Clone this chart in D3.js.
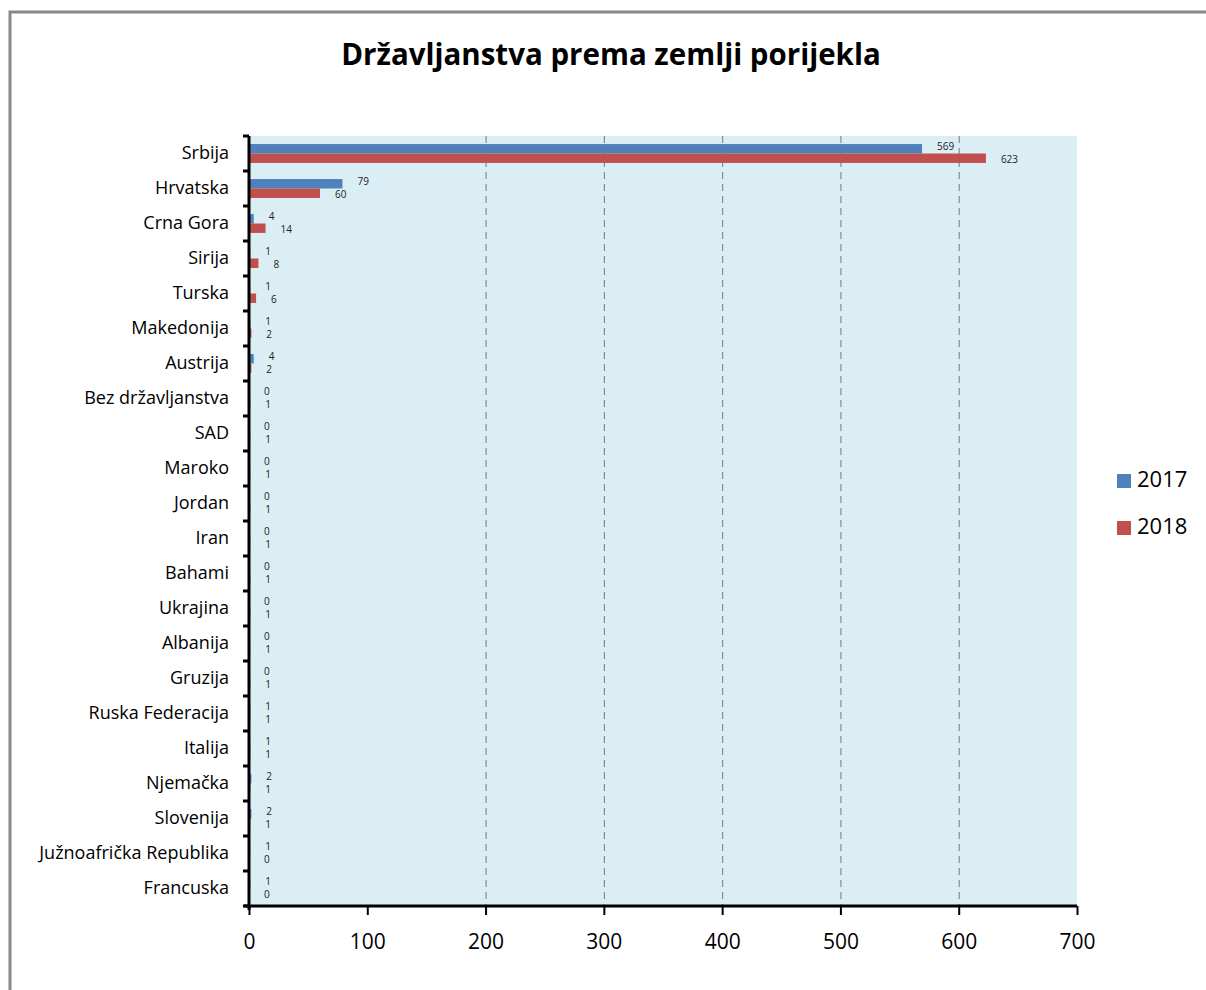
<!DOCTYPE html>
<html><head><meta charset="utf-8">
<script src="https://cdn.jsdelivr.net/npm/d3@7"></script>
<style>
body{margin:0;background:#fff;}
svg{display:block;}
</style></head>
<body>
<svg id="chart" width="1206" height="990"></svg>
<script>
const categories = ["Srbija","Hrvatska","Crna Gora","Sirija","Turska","Makedonija","Austrija","Bez državljanstva","SAD","Maroko","Jordan","Iran","Bahami","Ukrajina","Albanija","Gruzija","Ruska Federacija","Italija","Njemačka","Slovenija","Južnoafrička Republika","Francuska"];
const values2017 = [569,79,4,1,1,1,4,0,0,0,0,0,0,0,0,0,1,1,2,2,1,1];
const values2018 = [623,60,14,8,6,2,2,1,1,1,1,1,1,1,1,1,1,1,1,1,0,0];
const seriesNames = ["2017","2018"];
const seriesColors = ["#4F81BD","#C0504D"];
const xTicks = [0,100,200,300,400,500,600,700];
const gridTicks = [200,300,400,500,600];
const title = "Državljanstva prema zemlji porijekla";

const svg = d3.select("#chart");
const font = "'Open Sans', 'Noto Sans', sans-serif";

// outer frame
svg.append("rect").attr("x",10).attr("y",12).attr("width",1220).attr("height",1010)
  .attr("fill","none").attr("stroke","#888").attr("stroke-width",3);

const L = 249, R = 1077, T = 136, B = 906;
const x = d3.scaleLinear().domain([0,700]).range([L,R]);
const y = d3.scaleBand().domain(categories).range([T,B]).paddingInner(0.46).paddingOuter(0.23);
const sub = d3.scaleBand().domain(seriesNames).range([0,y.bandwidth()]);

svg.append("rect").attr("x",L).attr("y",T).attr("width",R-L).attr("height",B-T).attr("fill","#DBEEF4");

// gridlines
svg.append("g").selectAll("line").data(gridTicks).join("line")
  .attr("x1",d=>x(d)+0.5).attr("x2",d=>x(d)+0.5).attr("y1",T).attr("y2",B)
  .attr("stroke","#777").attr("stroke-width",1).attr("stroke-dasharray","7,5");

// title
svg.append("text").attr("x",611).attr("y",65).attr("text-anchor","middle")
  .attr("font-family",font).attr("font-weight","bold").attr("font-size",29.5).attr("fill","#000").text(title);

const series = [values2017, values2018];
series.forEach((vals,si)=>{
  const g = svg.append("g");
  g.selectAll("rect").data(categories).join("rect")
    .attr("x",x(0)).attr("y",c=>y(c)+sub(seriesNames[si]))
    .attr("width",(c,i)=>x(vals[i])-x(0)).attr("height",sub.bandwidth())
    .attr("fill",seriesColors[si]);
  g.selectAll("text").data(categories).join("text")
    .attr("x",(c,i)=>x(vals[i])+15)
    .attr("y",(c,i)=>y(c)+sub(seriesNames[si])+sub.bandwidth()/2 + (si===0?-1:2))
    .attr("dominant-baseline","middle")
    .attr("font-family",font).attr("font-size",10).attr("fill","#222")
    .text((c,i)=>vals[i]);
});

// y axis
const yAxis = d3.axisLeft(y).tickSize(0).tickPadding(20);
const yg = svg.append("g").attr("transform",`translate(${L},0)`).call(yAxis);
yg.select(".domain").remove();
yg.selectAll("text").attr("font-family",font).attr("font-size",18).attr("fill","#000");
// y axis line and boundary ticks
const bounds = categories.map(c=>y(c)-y.step()*y.paddingInner()/2).concat([B]);
svg.append("line").attr("x1",L).attr("x2",L).attr("y1",T).attr("y2",B+4).attr("stroke","#000").attr("stroke-width",3);
svg.append("g").selectAll("line").data(bounds).join("line")
  .attr("x1",L-6).attr("x2",L).attr("y1",d=>d).attr("y2",d=>d).attr("stroke","#000").attr("stroke-width",3);

// x axis
const xAxis = d3.axisBottom(x).tickValues(xTicks).tickSize(9).tickPadding(19);
const xg = svg.append("g").attr("transform",`translate(0,${B})`).call(xAxis);
xg.select(".domain").attr("stroke","#000").attr("stroke-width",3).attr("d",`M${L-5},0H${R}`);
xg.selectAll(".tick line").attr("stroke","#000").attr("stroke-width",2);
xg.selectAll("text").attr("font-family",font).attr("font-size",21).attr("fill","#000");

// legend
const lg = svg.append("g");
seriesNames.forEach((s,i)=>{
  lg.append("rect").attr("x",1117).attr("y",474+i*47).attr("width",14).attr("height",14).attr("fill",seriesColors[i]);
  lg.append("text").attr("x",1137).attr("y",481+i*47).attr("dominant-baseline","middle")
    .attr("font-family",font).attr("font-size",22).attr("fill","#000").text(s);
});
</script>
</body></html>
